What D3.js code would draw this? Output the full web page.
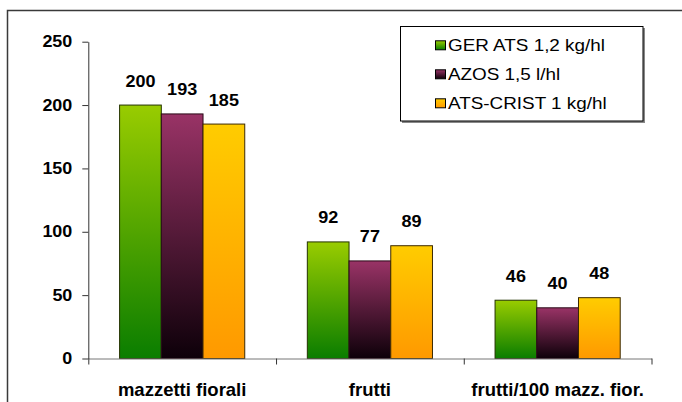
<!DOCTYPE html>
<html>
<head>
<meta charset="utf-8">
<script src="https://cdn.jsdelivr.net/npm/d3@7"></script>
<style>
  html, body { margin: 0; padding: 0; background: #fff; }
  svg { display: block; }
  text { font-family: "Liberation Sans", Arial, sans-serif; fill: #000; }
</style>
</head>
<body>
<svg id="chart" width="682" height="402"></svg>
<script>
// ---- data ----
const categories = ["mazzetti fiorali", "frutti", "frutti/100 mazz. fior."];
const seriesNames = ["GER ATS 1,2 kg/hl", "AZOS 1,5 l/hl", "ATS-CRIST 1 kg/hl"];
const gerValues = [200, 92, 46];
const azosValues = [193, 77, 40];
const cristValues = [185, 89, 48];
const yTicks = [0, 50, 100, 150, 200, 250];

const seriesValues = [gerValues, azosValues, cristValues];
const seriesStyle = [
  { top: "#99cc00", bottom: "#0a7d00", stroke: "#243300" },
  { top: "#993366", bottom: "#0d0009", stroke: "#2a0a18" },
  { top: "#ffcc00", bottom: "#ff9900", stroke: "#3d2a00" }
];

const svg = d3.select("#chart");

// stretch helper: sets glyph run to a target width
function fitWidth(sel, f) {
  sel.each(function () {
    const len = this.getComputedTextLength();
    d3.select(this).attr("textLength", len * f).attr("lengthAdjust", "spacingAndGlyphs");
  });
}

// outer frame
svg.append("rect")
  .attr("x", 7.5).attr("y", 10.5).attr("width", 720).attr("height", 440)
  .attr("fill", "none").attr("stroke", "#3a3a3a").attr("stroke-width", 1.5);

// gradients
const defs = svg.append("defs");
seriesStyle.forEach((s, i) => {
  const g = defs.append("linearGradient").attr("id", "grad" + i)
    .attr("x1", 0).attr("y1", 0).attr("x2", 0).attr("y2", 1);
  g.append("stop").attr("offset", "0%").attr("stop-color", s.top);
  g.append("stop").attr("offset", "100%").attr("stop-color", s.bottom);
});

// scales
const x0 = d3.scaleBand().domain(categories).range([88.3, 651.5]).paddingInner(0).paddingOuter(0);
const x1 = d3.scaleBand().domain(d3.range(seriesNames.length)).range([0, x0.bandwidth()])
  .paddingInner(0).paddingOuter(0.75);
const y = d3.scaleLinear().domain([0, 250]).range([358.5, 41.7]);

// bars
categories.forEach((c, ci) => {
  seriesValues.forEach((vals, si) => {
    const v = vals[ci];
    const bx = x0(c) + x1(si);
    svg.append("rect")
      .attr("x", bx).attr("y", y(v))
      .attr("width", x1.bandwidth()).attr("height", y(0) - y(v))
      .attr("fill", `url(#grad${si})`)
      .attr("stroke", seriesStyle[si].stroke).attr("stroke-width", 1);
    svg.append("text")
      .attr("class", "dlabel")
      .attr("x", bx + x1.bandwidth() / 2).attr("y", y(v) - 18.5)
      .attr("text-anchor", "middle")
      .style("font-size", "17px").style("font-weight", "bold")
      .text(v);
  });
});
fitWidth(svg.selectAll(".dlabel"), 1.06);

// y axis
const yAxis = svg.append("g").attr("transform", "translate(88.3,0)")
  .call(d3.axisLeft(y).tickValues(yTicks).tickSize(6).tickSizeOuter(0).tickPadding(10));
yAxis.select(".domain").attr("stroke", "#333");
yAxis.selectAll(".tick line").attr("stroke", "#333");
yAxis.selectAll(".tick text")
  .style("font-size", "16px").style("font-weight", "bold")
  .style("font-family", "'Liberation Sans', Arial, sans-serif").attr("fill", "#000");
fitWidth(yAxis.selectAll(".tick text"), 1.12);

// x axis (ticks at category boundaries)
const xb = d3.scaleLinear().domain([0, categories.length]).range(x0.range());
const xAxis = svg.append("g").attr("transform", `translate(0,${y(0)})`)
  .call(d3.axisBottom(xb).tickValues(d3.range(categories.length + 1)).tickSize(6).tickSizeOuter(0).tickFormat(""));
xAxis.select(".domain").attr("stroke", "#777");
xAxis.selectAll(".tick line").attr("stroke", "#333");

// category labels
svg.selectAll(".cat").data(categories).enter().append("text")
  .attr("class", "cat")
  .attr("x", d => x0(d) + x0.bandwidth() / 2).attr("y", 396)
  .attr("text-anchor", "middle")
  .style("font-size", "18.5px").style("font-weight", "bold")
  .text(d => d);

// legend
const lg = svg.append("g");
lg.append("rect").attr("x", 402).attr("y", 28).attr("width", 243).attr("height", 95)
  .attr("fill", "#888");
lg.append("rect").attr("x", 400.5).attr("y", 26.5).attr("width", 242.5).attr("height", 94.5)
  .attr("fill", "#fff").attr("stroke", "#000").attr("stroke-width", 1);
seriesNames.forEach((n, i) => {
  const cy = 45.3 + i * 29;
  lg.append("rect").attr("x", 435.5).attr("y", cy - 4.5).attr("width", 10).attr("height", 9)
    .attr("fill", `url(#grad${i})`).attr("stroke", "#000").attr("stroke-width", 1);
  lg.append("text").attr("class", "ltext")
    .attr("x", 448).attr("y", cy + 5.5)
    .style("font-size", "17px")
    .text(n);
});
fitWidth(lg.selectAll(".ltext"), 1.11);
</script>
</body>
</html>
